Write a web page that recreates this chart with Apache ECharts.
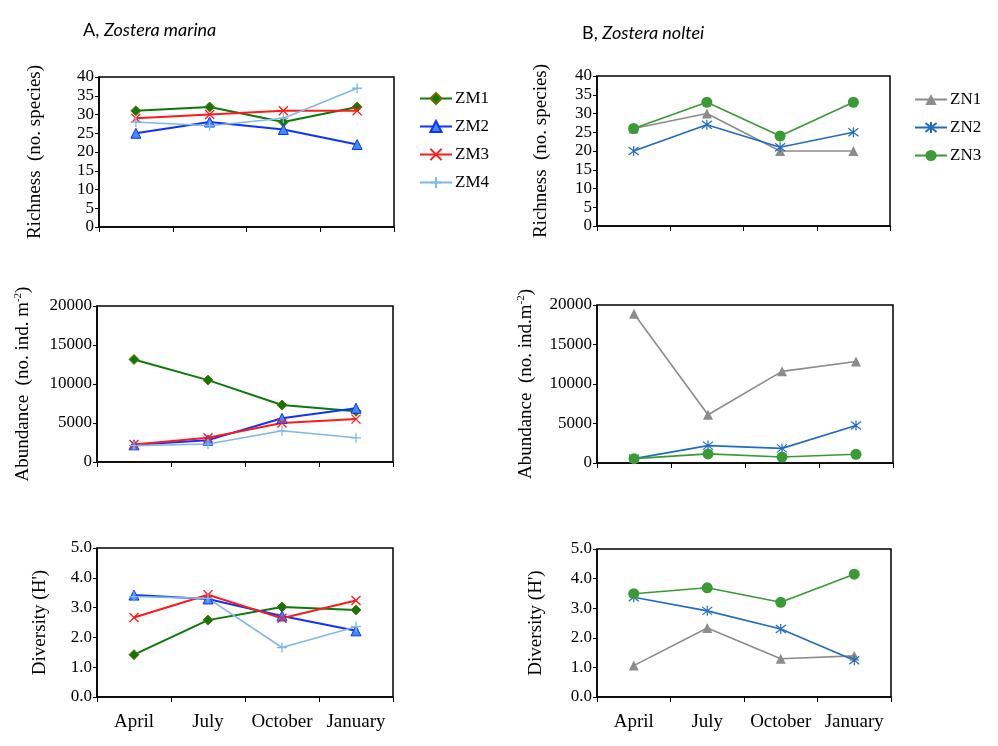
<!DOCTYPE html>
<html>
<head>
<meta charset="utf-8">
<script src="https://cdn.jsdelivr.net/npm/echarts@6/dist/echarts.min.js"></script>
<style>
  html, body { margin: 0; padding: 0; background: #fff; }
  #main { width: 998px; height: 746px; }
</style>
</head>
<body>
<div id="main"></div>
<script>
// sampling months
var months = ['April', 'July', 'October', 'January'];

// A, Zostera marina
var richZM1 = [31, 32, 28, 32];
var richZM2 = [25, 28, 26, 22];
var richZM3 = [29, 30, 31, 31];
var richZM4 = [28, 27, 29, 37];
var abunZM1 = [13150, 10500, 7300, 6500];
var abunZM2 = [2200, 2800, 5600, 6900];
var abunZM3 = [2250, 3100, 5000, 5500];
var abunZM4 = [2100, 2300, 4000, 3100];
var divZM1 = [1.42, 2.58, 3.02, 2.92];
var divZM2 = [3.42, 3.29, 2.72, 2.22];
var divZM3 = [2.67, 3.43, 2.64, 3.24];
var divZM4 = [3.37, 3.31, 1.66, 2.36];

// B, Zostera noltei
var richZN1 = [26, 30, 20, 20];
var richZN2 = [20, 27, 21, 25];
var richZN3 = [26, 33, 24, 33];
var abunZN1 = [18900, 6100, 11600, 12850];
var abunZN2 = [550, 2200, 1850, 4750];
var abunZN3 = [550, 1150, 750, 1100];
var divZN1 = [1.06, 2.33, 1.29, 1.39];
var divZN2 = [3.37, 2.91, 2.30, 1.24];
var divZN3 = [3.49, 3.69, 3.20, 4.15];

var serif = 'Liberation Serif';
var xPath = 'path://M0,0L10,10M10,0L0,10';
var plusPath = 'path://M5,0L5,10M0,5L10,5';
var starPath = 'path://M1,1L9,9M9,1L1,9M5,0L5,10';

// look of each site
var looks = {
  ZM1: { line: '#0b7a0b', width: 2, symbol: 'diamond', size: 10, fill: '#0b7a0b', border: '#7a6a00', bw: 1 },
  ZM2: { line: '#1030ff', width: 2, symbol: 'triangle', size: 10, fill: '#3a8cff', border: '#1030ff', bw: 1 },
  ZM3: { line: '#ff1a1a', width: 2, symbol: xPath, size: 9, fill: 'none', border: '#ff1a1a', bw: 1.3 },
  ZM4: { line: '#80b8e8', width: 1.6, symbol: plusPath, size: 10, fill: 'none', border: '#80b8e8', bw: 1.3 },
  ZN1: { line: '#8c8c8c', width: 1.6, symbol: 'triangle', size: 10, fill: '#8c8c8c', border: '#8c8c8c', bw: 0 },
  ZN2: { line: '#1f6cc4', width: 1.6, symbol: starPath, size: 10, fill: 'none', border: '#1f6cc4', bw: 1.2 },
  ZN3: { line: '#3a9a34', width: 1.6, symbol: 'circle', size: 11, fill: '#3a9a34', border: '#3a9a34', bw: 0 }
};

function mk(name, data, g) {
  var s = looks[name];
  return {
    name: name, type: 'line', data: data,
    xAxisIndex: g, yAxisIndex: g,
    symbol: s.symbol, symbolSize: s.size,
    lineStyle: { color: s.line, width: s.width },
    itemStyle: { color: s.fill, borderColor: s.border, borderWidth: s.bw },
    emphasis: { disabled: true },
    animation: false
  };
}

var grids = [
  { left: 99, top: 77, width: 295, height: 150 },
  { left: 597, top: 76, width: 293, height: 150 },
  { left: 97, top: 306, width: 296, height: 156 },
  { left: 597, top: 305, width: 296, height: 158 },
  { left: 97, top: 548, width: 296, height: 149 },
  { left: 597, top: 549, width: 294, height: 148 }
];
grids.forEach(function (g) {
  g.show = true; g.borderColor = '#000'; g.borderWidth = 1.5; g.backgroundColor = '#fff';
});

var xAxes = [];
for (var i = 0; i < 6; i++) {
  xAxes.push({
    type: 'category', gridIndex: i, data: months, boundaryGap: true,
    axisLine: { lineStyle: { color: '#000', width: 1.5 } },
    axisTick: { show: true, interval: 0, length: 5, lineStyle: { color: '#000' } },
    axisLabel: { show: i >= 4, interval: 0, color: '#000', fontFamily: serif, fontSize: 19, margin: 16 }
  });
}

var supRich = { s: { fontSize: 11, fontFamily: serif, color: '#000', verticalAlign: 'top', lineHeight: 20 } };
function yAx(i, min, max, step, name, gap, fmt) {
  return {
    type: 'value', gridIndex: i, min: min, max: max, interval: step,
    name: name, nameLocation: 'middle', nameGap: gap,
    nameTextStyle: { fontFamily: serif, fontSize: 19, color: '#000', lineHeight: 20, rich: supRich },
    axisLine: { show: true, lineStyle: { color: '#000', width: 1.5 } },
    axisTick: { show: true, length: 4, lineStyle: { color: '#000' } },
    splitLine: { show: false },
    axisLabel: { color: '#000', fontFamily: serif, fontSize: 17, margin: 5, formatter: fmt }
  };
}
var plain = function (v) { return String(v); };
var oneDec = function (v) { return v.toFixed(1); };

var yAxes = [
  yAx(0, 0, 40, 5, 'Richness  (no. species)', 54, plain),
  yAx(1, 0, 40, 5, 'Richness  (no. species)', 46, plain),
  yAx(2, 0, 20000, 5000, 'Abundance  (no. ind. m{s|-2})', 64, plain),
  yAx(3, 0, 20000, 5000, 'Abundance  (no. ind.m{s|-2})', 61, plain),
  yAx(4, 0, 5, 1, "Diversity (H')", 47, oneDec),
  yAx(5, 0, 5, 1, "Diversity (H')", 51, oneDec)
];

var series = [
  mk('ZM1', richZM1, 0), mk('ZM2', richZM2, 0), mk('ZM3', richZM3, 0), mk('ZM4', richZM4, 0),
  mk('ZN1', richZN1, 1), mk('ZN2', richZN2, 1), mk('ZN3', richZN3, 1),
  mk('ZM1', abunZM1, 2), mk('ZM2', abunZM2, 2), mk('ZM3', abunZM3, 2), mk('ZM4', abunZM4, 2),
  mk('ZN1', abunZN1, 3), mk('ZN2', abunZN2, 3), mk('ZN3', abunZN3, 3),
  mk('ZM1', divZM1, 4), mk('ZM2', divZM2, 4), mk('ZM3', divZM3, 4), mk('ZM4', divZM4, 4),
  mk('ZN1', divZN1, 5), mk('ZN2', divZN2, 5), mk('ZN3', divZN3, 5)
];

var titleRich = {
  n: { fontFamily: 'Lato', fontSize: 18, color: '#000', fontWeight: 'normal' },
  i: { fontFamily: 'Lato', fontSize: 18, color: '#000', fontWeight: 'normal', fontStyle: 'italic' }
};
function legendAt(left, top, names) {
  return {
    orient: 'vertical', left: left, top: top, data: names,
    itemWidth: 32, itemHeight: 14, itemGap: 11,
    selectedMode: false,
    textStyle: { fontFamily: serif, fontSize: 17, color: '#000', padding: [0, 0, 0, -2] }
  };
}

var chart = echarts.init(document.getElementById('main'));
chart.setOption({
  backgroundColor: '#fff',
  animation: false,
  title: [
    { text: '{n|A, }{i|Zostera marina}', left: 78, top: 16, textStyle: { fontWeight: 'normal', rich: titleRich } },
    { text: '{n|B, }{i|Zostera noltei}', left: 577, top: 19, textStyle: { fontWeight: 'normal', rich: titleRich } }
  ],
  legend: [
    legendAt(414, 85, ['ZM1', 'ZM2', 'ZM3', 'ZM4']),
    legendAt(909, 86, ['ZN1', 'ZN2', 'ZN3'])
  ],
  grid: grids,
  xAxis: xAxes,
  yAxis: yAxes,
  series: series
});
</script>
</body>
</html>
